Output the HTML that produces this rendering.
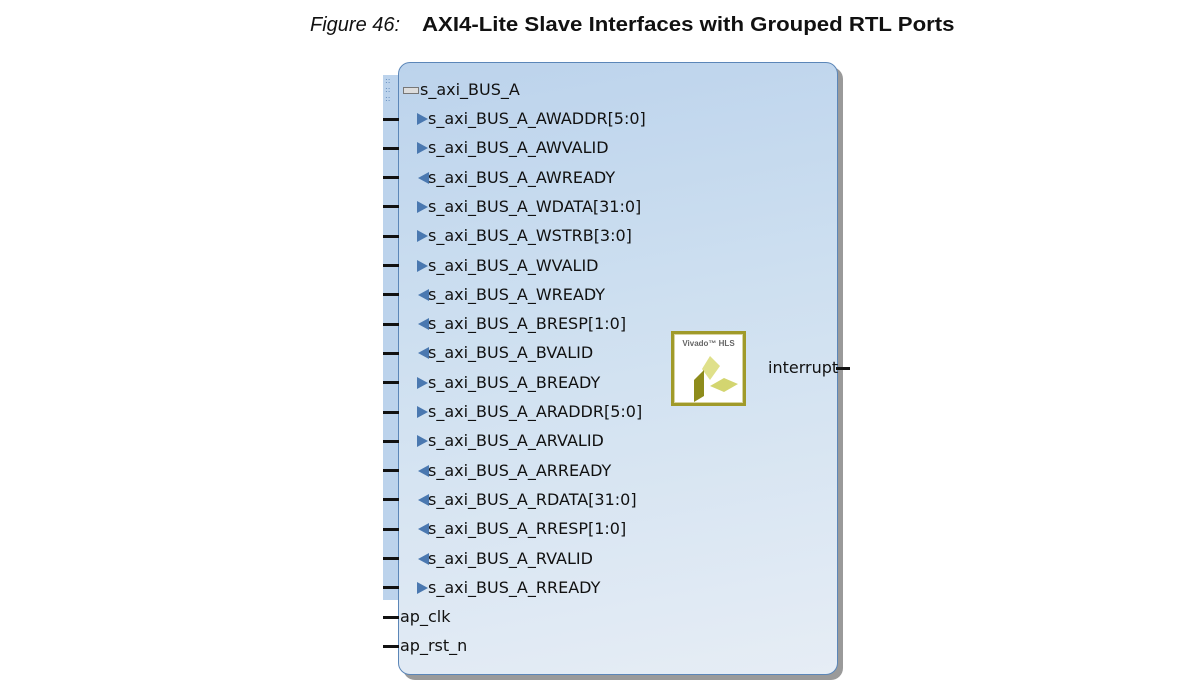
<!DOCTYPE html>
<html><head><meta charset="utf-8"><style>
body{margin:0;width:1193px;height:700px;background:#fff;position:relative;overflow:hidden;font-family:"DejaVu Sans","Liberation Sans",sans-serif}
.t{position:absolute;top:14px;font-size:20px;white-space:nowrap;color:#111;font-family:"Liberation Sans",sans-serif;transform-origin:0 0}
.shadow{position:absolute;left:403px;top:67px;width:440px;height:613px;background:#9a9a9a;border-radius:12px}
.blk{position:absolute;left:398px;top:62px;width:438px;height:611px;border:1px solid #5b86b8;border-radius:12px;background:linear-gradient(170deg,#bcd3ec 0%,#cddff0 40%,#e6edf5 100%)}
.strip{position:absolute;left:383px;top:75px;width:15px;height:525px;background:#bcd3ec}
.row{position:absolute;font-size:16px;color:#111;white-space:nowrap;line-height:18px}
.ln{position:absolute;left:383px;width:16px;height:3px;background:#111}
.ar{position:absolute;width:0;height:0}
</style></head><body>
<div class="t" style="left:310px;font-style:italic">Figure 46:</div>
<div class="t" style="left:422px;font-weight:bold;transform:scaleX(1.11)">AXI4-Lite Slave Interfaces with Grouped RTL Ports</div>
<div class="shadow"></div>
<div class="blk"></div>
<div class="strip"></div>
<div style="position:absolute;left:385px;top:76px;color:#5b86b8;font-size:8px;line-height:9px">::<br>::<br>::</div>
<div style="position:absolute;left:403px;top:87px;width:14px;height:5px;border:1px solid #777;background:#ddd"></div>
<div class="row" style="left:420px;top:81px">s_axi_BUS_A</div>
<div id="rows"></div>
<div class="ln" style="top:616px"></div><div class="row" style="left:400px;top:608px">ap_clk</div>
<div class="ln" style="top:645px"></div><div class="row" style="left:400px;top:637px">ap_rst_n</div>
<div style="position:absolute;left:671px;top:331px;width:69px;height:69px;border:3px solid #a09a2a;background:#fff;box-shadow:0 0 0 1px #d8d4a0 inset">
<div style="position:absolute;top:5px;width:100%;text-align:center;font-size:8px;font-weight:bold;color:#666;font-family:'Liberation Sans',sans-serif">Vivado™ HLS</div>
<svg width="69" height="69" style="position:absolute;left:0;top:0"><polygon points="36,22 46,32 36,46 28,35" fill="#dfe08a"/><polygon points="20,46 30,36 30,62 20,68" fill="#8e8c1c"/><polygon points="36,52 50,44 64,50 50,58" fill="#d3d570"/></svg></div>
<div class="row" style="left:768px;top:359px">interrupt</div>
<div style="position:absolute;left:836px;top:367px;width:14px;height:3px;background:#111"></div>
<script>
var r=[["AWADDR[5:0]",1],["AWVALID",1],["AWREADY",0],["WDATA[31:0]",1],["WSTRB[3:0]",1],["WVALID",1],["WREADY",0],["BRESP[1:0]",0],["BVALID",0],["BREADY",1],["ARADDR[5:0]",1],["ARVALID",1],["ARREADY",0],["RDATA[31:0]",0],["RRESP[1:0]",0],["RVALID",0],["RREADY",1]];
var h="";
r.forEach(function(e,i){var y=119+i*29.3;
h+='<div class="ln" style="top:'+(y-1.5)+'px"></div>';
if(e[1])h+='<div class="ar" style="left:417px;top:'+(y-6)+'px;border-top:6px solid transparent;border-bottom:6px solid transparent;border-left:11px solid #4a78b0"></div>';
else h+='<div class="ar" style="left:418px;top:'+(y-6)+'px;border-top:6px solid transparent;border-bottom:6px solid transparent;border-right:11px solid #4a78b0"></div>';
h+='<div class="row" style="left:428px;top:'+(y-9)+'px">s_axi_BUS_A_'+e[0]+'</div>';});
document.getElementById("rows").innerHTML=h;
</script>
</body></html>
